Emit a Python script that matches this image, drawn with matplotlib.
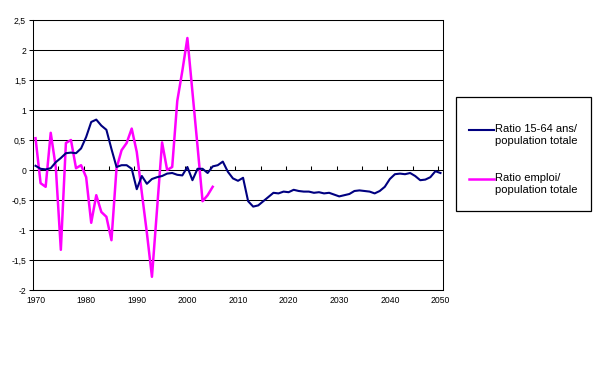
import matplotlib
matplotlib.use("Agg")
import matplotlib.pyplot as plt
from matplotlib.legend_handler import HandlerLine2D
from matplotlib.patches import Rectangle
import numpy as np

plt.rcParams['font.family'] = ['Liberation Sans', 'DejaVu Sans']

# ratio 15-64 ans / population totale, 1970-2050
years_pop = list(range(1970, 2051))
ratio_pop = [0.07, 0.02, 0.01, 0.03, 0.13, 0.20, 0.28, 0.29, 0.28, 0.36,
             0.55, 0.80, 0.84, 0.74, 0.67, 0.35, 0.05, 0.08, 0.08, 0.02,
             -0.32, -0.10, -0.23, -0.15, -0.12, -0.10, -0.06, -0.05, -0.08, -0.09,
             0.05, -0.17, 0.02, 0.02, -0.05, 0.06, 0.08, 0.14, -0.03, -0.14,
             -0.18, -0.13, -0.52, -0.61, -0.59, -0.52, -0.45, -0.38, -0.39, -0.36,
             -0.37, -0.33, -0.35, -0.36, -0.36, -0.38, -0.37, -0.39, -0.38, -0.41,
             -0.44, -0.42, -0.40, -0.35, -0.34, -0.35, -0.36, -0.39, -0.35, -0.28,
             -0.15, -0.07, -0.06, -0.07, -0.05, -0.10, -0.17, -0.16, -0.12, -0.02,
             -0.05]

# ratio emploi / population totale, 1970-2005
years_emp = list(range(1970, 2006))
ratio_emp = [0.53, -0.22, -0.28, 0.62, 0.05, -1.33, 0.45, 0.50, 0.03, 0.08,
             -0.12, -0.88, -0.42, -0.70, -0.78, -1.17, 0.03, 0.33, 0.45, 0.69,
             0.30, -0.38, -1.05, -1.78, -0.66, 0.46, 0.00, 0.05, 1.15, 1.65,
             2.20, 1.30, 0.40, -0.52, -0.42, -0.28]

x_ticks = list(range(1970, 2051, 10))
y_ticks = [-2, -1.5, -1, -0.5, 0, 0.5, 1, 1.5, 2, 2.5]
y_labels = ['-2', '-1,5', '-1', '-0,5', '0', '0,5', '1', '1,5', '2', '2,5']


class FirstLineHandler(HandlerLine2D):
    # put the legend line next to the first line of a two-line label
    def create_artists(self, legend, orig_handle, xdescent, ydescent,
                       width, height, fontsize, trans):
        return super().create_artists(legend, orig_handle, xdescent,
                                      ydescent - 1.0 * fontsize, width,
                                      height, fontsize, trans)


fig = plt.figure(figsize=(6.09, 3.84), dpi=100)
ax = fig.add_axes([33 / 609, 1 - 290 / 384, 410 / 609, 270 / 384])

for v in y_ticks:
    ax.axhline(v, color='black', lw=0.75, zorder=1)

l1, = ax.plot(years_pop, ratio_pop, color='#000080', lw=1.5, zorder=3,
              label='Ratio 15-64 ans/\npopulation totale')
l2, = ax.plot(years_emp, ratio_emp, color='#FF00FF', lw=1.8, zorder=2,
              label='Ratio emploi/\npopulation totale')

ax.set_xlim(1969.5, 2050.5)
ax.set_ylim(-2, 2.5)
ax.set_xticks(x_ticks)
ax.set_xticklabels([str(y) for y in x_ticks])
ax.set_yticks(y_ticks)
ax.set_yticklabels(y_labels)
ax.tick_params(axis='x', length=0, labelsize=6.2, pad=4)
ax.tick_params(axis='y', length=3, width=0.75, labelsize=6.2, pad=2)
for s in ax.spines.values():
    s.set_linewidth(0.75)
    s.set_color('black')

# small tick marks hanging off the zero line
sec = ax.secondary_xaxis(2 / 4.5)
sec.set_xticks(np.arange(1974.5, 2050, 5))
sec.set_xticklabels([])
sec.tick_params(direction='in', length=3, width=0.75, color='black')
sec.spines['top'].set_visible(False)
sec.spines['bottom'].set_visible(False)

leg = fig.legend(handles=[l1, l2], loc='center',
                 bbox_to_anchor=(523.5 / 609, 1 - 159.5 / 384),
                 fontsize=8, frameon=False, handlelength=2.2,
                 handletextpad=0.15, labelspacing=2.35, borderpad=0,
                 borderaxespad=0,
                 handler_map={l1: FirstLineHandler(), l2: FirstLineHandler()})
for t in leg.get_texts():
    t.set_linespacing(1.35)

fig.patches.append(Rectangle((456 / 609, 1 - 211 / 384), 135 / 609, 114 / 384,
                             transform=fig.transFigure, fill=False,
                             edgecolor='black', lw=0.9))

fig.savefig('out.png', dpi=100)
